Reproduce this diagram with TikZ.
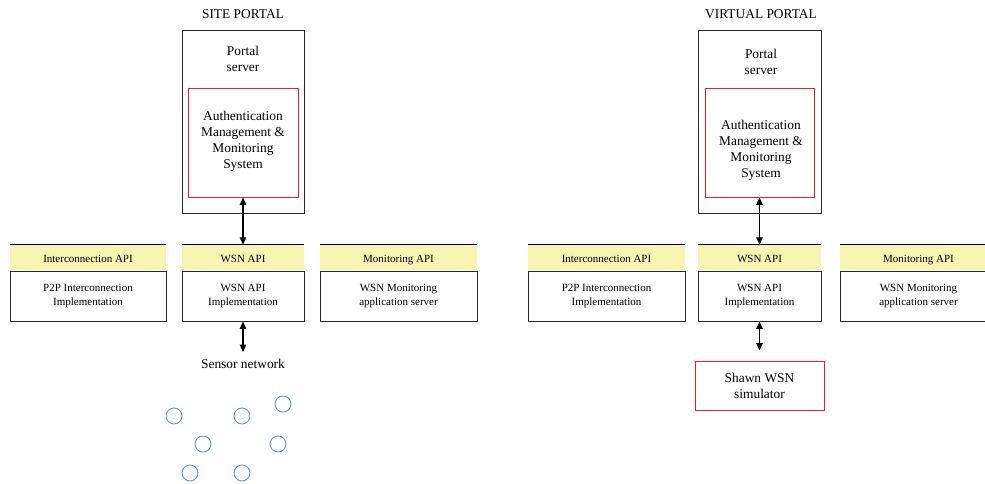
\documentclass[tikz,border=0pt]{standalone}
\usepackage{fontspec}
\setmainfont{Liberation Serif}
\usetikzlibrary{arrows.meta}
\definecolor{hdryellow}{RGB}{246,246,178}
\definecolor{boxred}{RGB}{240,30,40}
\definecolor{nodeblue}{RGB}{91,155,213}
\definecolor{boxline}{RGB}{40,40,40}
\begin{document}
\begin{tikzpicture}[x=1pt,y=-1pt,
  bigtxt/.style={font=\fontsize{13.4}{16}\selectfont, align=center, inner sep=0pt},
  smalltxt/.style={font=\fontsize{11}{14}\selectfont, align=center, inner sep=0pt},
  outerbox/.style={draw=boxline, line width=0.95pt, inner sep=0pt},
  redbox/.style={draw=boxred, line width=0.9pt, inner sep=0pt, bigtxt},
  hdrbox/.style={fill=hdryellow, inner sep=0pt, minimum height=25pt, text height=11pt, text depth=2pt, smalltxt},
  bodybox/.style={draw=boxline, line width=0.95pt, inner sep=0pt, minimum height=50pt, smalltxt},
  sensornode/.style={circle, draw=nodeblue, line width=0.9pt, minimum size=16pt, inner sep=0pt},
  biarrow/.style={line width=1.1pt, {Triangle[length=7.5pt,width=6.5pt]}-{Triangle[length=7.5pt,width=6.5pt]}},
  hdrline/.style={line width=1.3pt, draw=black}
]
\useasboundingbox (0,0) rectangle (985,483);

% ---------------- SITE PORTAL ----------------
\node[bigtxt] (titleL) at (243,14) {SITE PORTAL};
\node[outerbox, minimum width=122pt, minimum height=183pt] (srvL) at (243,121.5) {};
\node[bigtxt] (srvtxtL) at (243,59) {Portal\\server};
\node[redbox, minimum width=110pt, minimum height=109pt] (authL) at (243,142.5) {};
\node[bigtxt] (authtxtL) at (243,141) {Authentication\\Management \&\\Monitoring\\System};

\node[hdrbox, minimum width=156pt] (hIL) at (88,257.5) {Interconnection API};
\node[bodybox, minimum width=156pt] (bIL) at (88,296) {P2P Interconnection\\Implementation};
\node[hdrbox, minimum width=122pt] (hWL) at (243,257.5) {WSN API};
\node[bodybox, minimum width=122pt] (bWL) at (243,296) {WSN API\\Implementation};
\node[hdrbox, minimum width=157pt] (hML) at (398.5,257.5) {Monitoring API};
\node[bodybox, minimum width=157pt] (bML) at (398.5,296) {WSN Monitoring\\application server};
\draw[hdrline] (hIL.north west) -- (hIL.north east);
\draw[hdrline] (hWL.north west) -- (hWL.north east);
\draw[hdrline] (hML.north west) -- (hML.north east);

\draw[biarrow] (authL.south) -- (hWL.north);
\coordinate (sensEnd) at (243,352);
\draw[biarrow] (bWL.south) -- (sensEnd);
\node[bigtxt] (sensLabel) at (243,364) {Sensor network};

\node[sensornode] (s1) at (174,416) {};
\node[sensornode] (s2) at (242,416) {};
\node[sensornode] (s3) at (283,404) {};
\node[sensornode] (s4) at (203,444) {};
\node[sensornode] (s5) at (278,444) {};
\node[sensornode] (s6) at (190,473) {};
\node[sensornode] (s7) at (242,473) {};

% ---------------- VIRTUAL PORTAL ----------------
\node[bigtxt] (titleR) at (761,14) {VIRTUAL PORTAL};
\node[outerbox, minimum width=123pt, minimum height=183pt] (srvR) at (759.5,121.5) {};
\node[bigtxt] (srvtxtR) at (761,62) {Portal\\server};
\node[redbox, minimum width=109pt, minimum height=109pt] (authR) at (759.5,142.5) {};
\node[bigtxt] (authtxtR) at (761,150.5) {Authentication\\Management \&\\Monitoring\\System};

\node[hdrbox, minimum width=157pt] (hIR) at (606.5,257.5) {Interconnection API};
\node[bodybox, minimum width=157pt] (bIR) at (606.5,296) {P2P Interconnection\\Implementation};
\node[hdrbox, minimum width=123pt] (hWR) at (759.5,257.5) {WSN API};
\node[bodybox, minimum width=123pt] (bWR) at (759.5,296) {WSN API\\Implementation};
\node[hdrbox, minimum width=157pt] (hMR) at (918.5,257.5) {Monitoring API};
\node[bodybox, minimum width=157pt] (bMR) at (918.5,296) {WSN Monitoring\\application server};
\draw[hdrline] (hIR.north west) -- (hIR.north east);
\draw[hdrline] (hWR.north west) -- (hWR.north east);
\draw[hdrline] (hMR.north west) -- (hMR.north east);

\draw[biarrow] (authR.south) -- (hWR.north);
\node[redbox, minimum width=129pt, minimum height=49pt] (shawn) at (759.5,385.5) {Shawn WSN\\simulator};
\draw[biarrow, shorten >=10pt] (bWR.south) -- (shawn.north);
\end{tikzpicture}
\end{document}
